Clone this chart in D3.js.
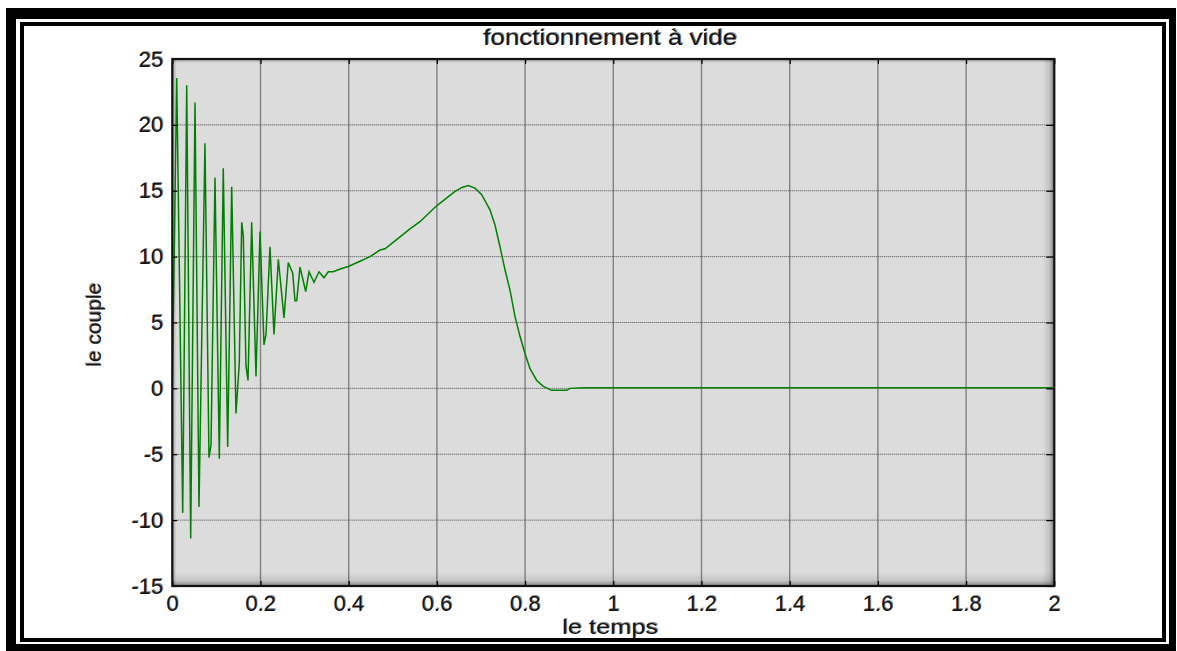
<!DOCTYPE html>
<html>
<head>
<meta charset="utf-8">
<script src="https://cdn.jsdelivr.net/npm/d3@7"></script>
<style>
  html, body { margin: 0; padding: 0; background: #fff; }
  svg { display: block; }
  text { font-family: "Liberation Sans", Arial, Helvetica, sans-serif; }
</style>
</head>
<body>
<svg id="chart" width="1177" height="651"></svg>
<script>
// Torque response of the machine during no-load operation
const titleText = "fonctionnement à vide";
const xLabel = "le temps";
const yLabel = "le couple";

const xTicks = [0, 0.2, 0.4, 0.6, 0.8, 1, 1.2, 1.4, 1.6, 1.8, 2];
const xTickLabels = ["0", "0.2", "0.4", "0.6", "0.8", "1", "1.2", "1.4", "1.6", "1.8", "2"];
const yTicks = [25, 20, 15, 10, 5, 0, -5, -10, -15];
const yTickLabels = ["25", "20", "15", "10", "5", "0", "-5", "-10", "-15"];

// time samples (s)
const time = [
  0, 0.010, 0.0236, 0.0327, 0.0417, 0.0515, 0.0605, 0.0741, 0.0832, 0.0878,
  0.0968, 0.1066, 0.1156, 0.1256, 0.1347, 0.1444, 0.1519, 0.1574, 0.161, 0.1671,
  0.1717, 0.18, 0.1898, 0.1989, 0.2079, 0.2125, 0.2215, 0.2306, 0.2404, 0.2533,
  0.263, 0.273, 0.2782, 0.2821, 0.2896, 0.3025, 0.31, 0.3213, 0.3327, 0.344,
  0.3537, 0.3644, 0.3841, 0.3991, 0.4256, 0.4483, 0.4709, 0.4823, 0.505, 0.539,
  0.5616, 0.5957, 0.6109, 0.6411, 0.6569, 0.6712, 0.6864, 0.7016, 0.7204, 0.7317,
  0.7431, 0.7544, 0.7658, 0.7771, 0.7884, 0.7998, 0.8111, 0.8263, 0.8413, 0.8603,
  0.8943, 0.9018, 0.9358, 2.0
];
// electromagnetic torque
const torque = [
  0, 23.55, -9.45, 23.0, -11.4, 21.7, -9.0, 18.6, -5.25, -4.3,
  16.0, -5.35, 16.7, -4.45, 15.3, -1.9, 1.9, 12.6, 11.6, 1.7,
  0.6, 12.6, 0.9, 11.9, 3.3, 4.1, 10.75, 4.1, 9.8, 5.35,
  9.55, 8.75, 6.65, 6.65, 9.2, 7.35, 8.85, 8.05, 8.85, 8.4,
  8.85, 8.85, 9.1, 9.25, 9.65, 10.0, 10.5, 10.6, 11.2, 12.1,
  12.65, 13.75, 14.15, 14.95, 15.25, 15.4, 15.2, 14.7, 13.55, 12.4,
  10.75, 9.0, 7.45, 5.45, 3.95, 2.65, 1.5, 0.6, 0.15, -0.15,
  -0.15, 0.0, 0.05, 0.05
];

const svg = d3.select("#chart");

// ---- outer double frame ----
svg.append("rect").attr("x", 6).attr("y", 8).attr("width", 1170).attr("height", 650).attr("fill", "#000");
svg.append("rect").attr("x", 16).attr("y", 19).attr("width", 1153).attr("height", 625).attr("fill", "#fff");
svg.append("rect").attr("x", 22).attr("y", 24).attr("width", 1142).attr("height", 616)
  .attr("fill", "#fff").attr("stroke", "#000").attr("stroke-width", 4);

// ---- plot area ----
const pL = 172.3, pR = 1054.3, pT = 59, pB = 586;
const x = d3.scaleLinear().domain([0, 2]).range([pL, pR]);
const y = d3.scaleLinear().domain([-15, 25]).range([pB, pT]);

const defs = svg.append("defs");
function grad(id, x1, y1, x2, y2, stops) {
  const g = defs.append("linearGradient").attr("id", id)
    .attr("x1", x1).attr("y1", y1).attr("x2", x2).attr("y2", y2);
  stops.forEach(s => g.append("stop").attr("offset", s[0]).attr("stop-color", "#000").attr("stop-opacity", s[1]));
}
grad("shR", 0, 0, 1, 0, [[0, 0], [0.6, 0.12], [1, 0.45]]);
grad("shB", 0, 0, 0, 1, [[0, 0], [0.6, 0.1], [1, 0.4]]);
grad("shL", 1, 0, 0, 0, [[0, 0], [1, 0.3]]);
grad("shT", 0, 1, 0, 0, [[0, 0], [1, 0.3]]);

svg.append("rect").attr("x", pL).attr("y", pT).attr("width", pR - pL).attr("height", pB - pT)
  .attr("fill", "#dcdcdc");

const grid = svg.append("g");
// vertical grid: solid grey
grid.selectAll("line.v").data(xTicks.slice(1, -1)).join("line")
  .attr("x1", d => x(d)).attr("x2", d => x(d)).attr("y1", pT).attr("y2", pB)
  .attr("stroke", "#808080").attr("stroke-width", 1.4);
// horizontal grid: dotted
grid.selectAll("line.h").data(yTicks.slice(1, -1)).join("line")
  .attr("x1", pL).attr("x2", pR).attr("y1", d => y(d)).attr("y2", d => y(d))
  .attr("stroke", "#4a4a4a").attr("stroke-width", 1).attr("stroke-dasharray", "1,1");

// bevel shading along edges
svg.append("rect").attr("x", pR - 12).attr("y", pT).attr("width", 12).attr("height", pB - pT).attr("fill", "url(#shR)");
svg.append("rect").attr("x", pL).attr("y", pB - 14).attr("width", pR - pL).attr("height", 14).attr("fill", "url(#shB)");
svg.append("rect").attr("x", pL).attr("y", pT).attr("width", 4).attr("height", pB - pT).attr("fill", "url(#shL)");
svg.append("rect").attr("x", pL).attr("y", pT).attr("width", pR - pL).attr("height", 4).attr("fill", "url(#shT)");

// torque curve
const pts = time.map((t, i) => [t, torque[i]]);
svg.append("path").datum(pts)
  .attr("d", d3.line().x(d => x(d[0])).y(d => y(d[1])))
  .attr("fill", "none").attr("stroke", "#008000").attr("stroke-width", 1.5)
  .attr("stroke-linejoin", "miter");

// axes with inward ticks
const tk = 5;
function styleAxis(g) {
  g.select(".domain").remove();
  g.selectAll("line").attr("stroke", "#000").attr("stroke-width", 1.2);
}
svg.append("g").attr("transform", `translate(0,${pB})`)
  .call(d3.axisBottom(x).tickValues(xTicks).tickSizeInner(-tk).tickSizeOuter(0).tickFormat(""))
  .call(styleAxis);
svg.append("g").attr("transform", `translate(0,${pT})`)
  .call(d3.axisTop(x).tickValues(xTicks).tickSizeInner(-tk).tickSizeOuter(0).tickFormat(""))
  .call(styleAxis);
svg.append("g").attr("transform", `translate(${pL},0)`)
  .call(d3.axisLeft(y).tickValues(yTicks).tickSizeInner(-tk).tickSizeOuter(0).tickFormat(""))
  .call(styleAxis);
svg.append("g").attr("transform", `translate(${pR},0)`)
  .call(d3.axisRight(y).tickValues(yTicks).tickSizeInner(-tk - 3).tickSizeOuter(0).tickFormat(""))
  .call(styleAxis);

// plot frame
svg.append("rect").attr("x", pL).attr("y", pT).attr("width", pR - pL).attr("height", pB - pT)
  .attr("fill", "none").attr("stroke", "#111").attr("stroke-width", 2.2);

// text drawn with a faint doubled copy
function label(g, txt, opts) {
  const o = Object.assign({ size: 22, anchor: "middle", baseline: "central", len: null }, opts);
  [[0.9, -0.9, "#8a8a8a"], [0, 0, "#151515"]].forEach(([dx, dy, col]) => {
    const t = g.append("text")
      .attr("x", o.x + dx).attr("y", o.y + dy)
      .attr("font-size", o.size).attr("text-anchor", o.anchor)
      .attr("dominant-baseline", o.baseline)
      .attr("fill", col).text(txt);
    if (o.len) t.attr("textLength", o.len).attr("lengthAdjust", "spacingAndGlyphs");
  });
}

const labels = svg.append("g");
xTicks.forEach((t, i) => label(labels, xTickLabels[i], { x: x(t), y: 603.5 }));
yTicks.forEach((v, i) => label(labels, yTickLabels[i], { x: 163, y: y(v), anchor: "end" }));

label(labels, titleText, { x: 610, y: 44.5, size: 22, baseline: "alphabetic", len: 254 });
label(labels, xLabel, { x: 610, y: 634, size: 21, baseline: "alphabetic", len: 96 });

const yl = labels.append("g").attr("transform", "translate(101,325) rotate(-90)");
label(yl, yLabel, { x: 0, y: 0, size: 21, baseline: "alphabetic", len: 84 });
</script>
</body>
</html>
